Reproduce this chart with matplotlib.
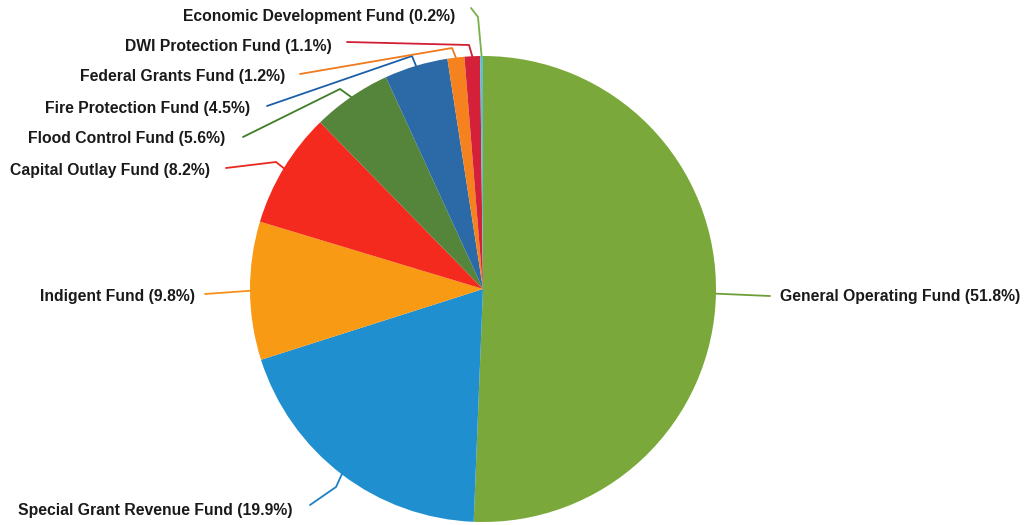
import numpy as np
import matplotlib
matplotlib.use("Agg")
import matplotlib.pyplot as plt

categories = ["General Operating Fund", "Special Grant Revenue Fund", "Indigent Fund",
              "Capital Outlay Fund", "Flood Control Fund", "Fire Protection Fund",
              "Federal Grants Fund", "DWI Protection Fund", "Economic Development Fund"]
values = [51.8, 19.9, 9.8, 8.2, 5.6, 4.5, 1.2, 1.1, 0.2]
colors = ["#7aa83a", "#1f8fd0", "#f99a14", "#f42a1e", "#54853a", "#2b6aa6",
          "#f5821e", "#d5203a", "#5cc0d0"]
line_colors = ["#6e9e38", "#1f7fc4", "#f5901a", "#e8281e", "#3f7d2a", "#1d5ea8",
               "#f07a1e", "#d01e34", "#7ab04a"]

W, H = 1029, 525
CX, CY, R = 483, 289, 233

fig = plt.figure(figsize=(W / 100, H / 100), dpi=100)
ax = fig.add_axes([0, 0, 1, 1])
wedges, _ = ax.pie(values, colors=colors, startangle=90, counterclock=False,
                   wedgeprops=dict(linewidth=0))
ax.set_aspect("auto")
ax.set_xlim(-CX / R, (W - CX) / R)
ax.set_ylim(-(H - CY) / R, CY / R)
ax.axis("off")


def px(x, y):
    return ((x - CX) / R, (CY - y) / R)


# label layout in pixel coords: (text x, text y, ha, line points before the wedge edge)
layout = {
    "Economic Development Fund": (455, 16, "right", [(471, 8), (478, 17)]),
    "DWI Protection Fund": (332, 46, "right", [(347, 42), (469, 45)]),
    "Federal Grants Fund": (285, 77, "right", [(300, 74), (452, 48)]),
    "Fire Protection Fund": (250, 108, "right", [(267, 106), (412, 56)]),
    "Flood Control Fund": (225, 139, "right", [(243, 137), (340, 89)]),
    "Capital Outlay Fund": (210, 171, "right", [(226, 168), (276, 162)]),
    "Indigent Fund": (195, 296, "right", [(205, 294)]),
    "General Operating Fund": (780, 297, "left", [(770, 296)]),
    "Special Grant Revenue Fund": (293, 511, "right", [(310, 505), (336, 487)]),
}

for i, (w, cat, val) in enumerate(zip(wedges, categories, values)):
    mid = np.deg2rad((w.theta1 + w.theta2) / 2)
    ex, ey = np.cos(mid) * 1.0, np.sin(mid) * 1.0
    tx, ty, ha, pts = layout[cat]
    path = [px(*p) for p in pts] + [(ex, ey)]
    xs, ys = zip(*path)
    ax.plot(xs, ys, color=line_colors[i], lw=1.3, solid_capstyle="round",
            solid_joinstyle="round")
    lx, ly = px(tx, ty)
    ax.text(lx, ly, f"{cat} ({val}%)", ha=ha, va="center", fontsize=11.3,
            fontweight="bold", family="Liberation Sans", color="#1a1a1a")

fig.savefig("out.png", dpi=100)
